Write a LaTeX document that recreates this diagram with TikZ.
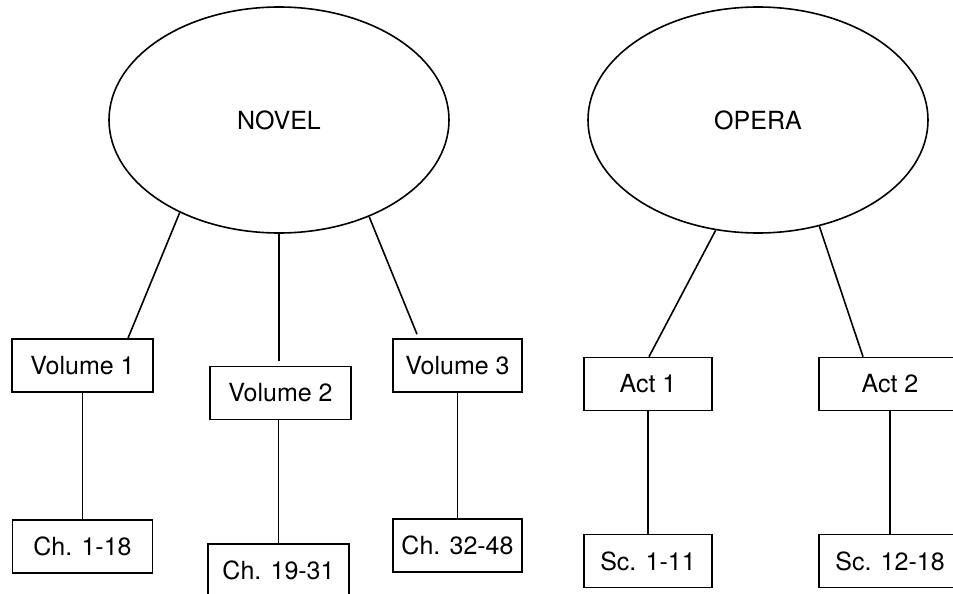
\documentclass[tikz,border=0pt]{standalone}
\usepackage{fontspec}
\setmainfont{TeX Gyre Heros}
\usetikzlibrary{shapes.geometric}
\begin{document}
\begin{tikzpicture}[x=1pt,y=-1pt,
  every node/.style={font=\fontsize{25}{29}\selectfont},
  topic/.style={draw,ellipse,line width=1.6pt,minimum width=340pt,minimum height=226pt,inner sep=0pt},
  part/.style={draw,rectangle,line width=1.6pt,minimum height=53pt,inner sep=0pt},
  link/.style={line width=1.6pt}]
\useasboundingbox (0,0) rectangle (953,594);
\clip (0,0) rectangle (953,594);
\fill[white] (0,0) rectangle (953,594);
% top-level
\node[topic] (novel) at (279,120) {NOVEL};
\node[topic] (opera) at (758,120) {OPERA};
% novel parts
\node[part,minimum width=141pt] (v1) at (82.5,365.5) {Volume 1};
\node[part,minimum width=141pt] (v2) at (280.5,393) {Volume 2};
\node[part,minimum width=129pt] (v3) at (457.5,365.5) {Volume 3};
\node[part,minimum width=140pt] (c1) at (82.5,546.5) {Ch. 1-18};
\node[part,minimum width=141pt] (c2) at (278.5,570.5) {Ch. 19-31};
\node[part,minimum width=129pt] (c3) at (457.5,545.5) {Ch. 32-48};
% opera parts
\node[part,minimum width=128pt] (a1) at (648,384) {Act 1};
\node[part,minimum width=142pt] (a2) at (890,384) {Act 2};
\node[part,minimum width=128pt] (s1) at (648,561) {Sc. 1-11};
\node[part,minimum width=142pt] (s2) at (890,561) {Sc. 12-18};
% connectors
\draw[link] (novel.223) -- ([xshift=45.5pt]v1.north);
\draw[link] (novel.south) -- ([xshift=-1.5pt,yshift=5pt]v2.north);
\draw[link] (novel.313) -- ([xshift=-40.5pt,yshift=4pt]v3.north);
\draw[link] (v1.south) -- (c1.north);
\draw[link] (v2.south -| c2.north) -- (c2.north);
\draw[link] (v3.south) -- (c3.north);
\draw[link] (opera.249.6) -- ([xshift=1pt]a1.north);
\draw[link] (opera.300.6) -- ([xshift=-27pt]a2.north);
\draw[link] (a1.south) -- (s1.north);
\draw[link] (a2.south) -- (s2.north);
\end{tikzpicture}
\end{document}
